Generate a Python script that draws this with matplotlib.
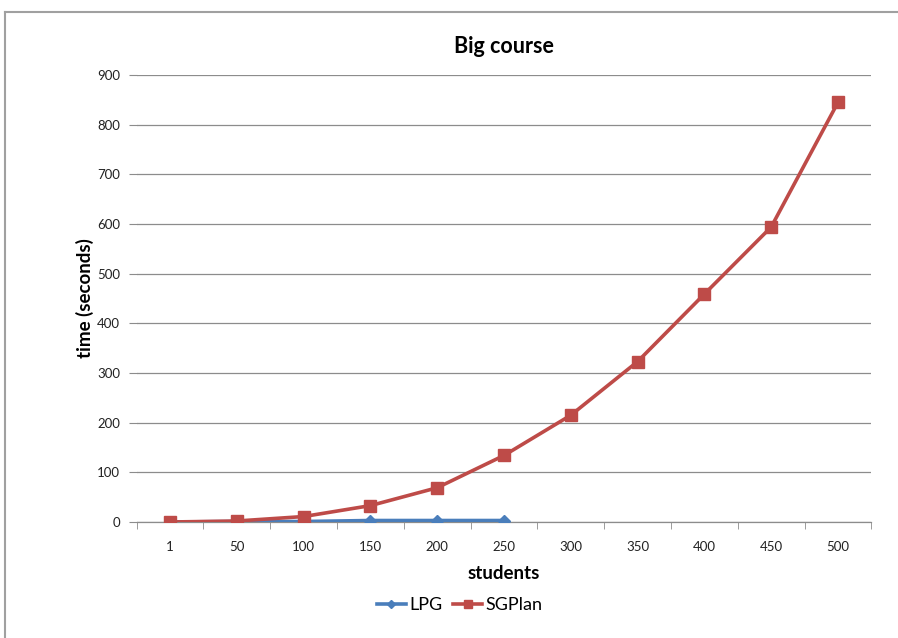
import matplotlib
matplotlib.use('Agg')
import matplotlib.pyplot as plt
import numpy as np
from matplotlib.lines import Line2D

plt.rcParams['font.family'] = ['Lato', 'DejaVu Sans']

students = ['1', '50', '100', '150', '200', '250', '300', '350', '400', '450', '500']
sgplan = [0, 2, 11, 33, 69, 134, 215, 323, 459, 594, 845]
lpg = [0, 1, 1, 3, 3, 3]

BLUE = '#4a7ebb'
RED = '#be4b48'
GRID = '#8c8c8c'

fig = plt.figure(figsize=(8.98, 6.38), dpi=100)
# outer chart frame (left and top edges visible)
fig.add_artist(Line2D([5 / 898, 5 / 898], [0, 1 - 12 / 638], transform=fig.transFigure,
                      color='#a0a0a0', linewidth=1.5))
fig.add_artist(Line2D([5 / 898, 1], [1 - 12 / 638, 1 - 12 / 638], transform=fig.transFigure,
                      color='#a0a0a0', linewidth=1.5))

ax = fig.add_axes([136.6 / 898, 116 / 638, (871.4 - 136.6) / 898, 447 / 638])

x = np.arange(len(students))
ax.plot(x[:len(lpg)], lpg, color=BLUE, linewidth=2.6, marker='D', markersize=6,
        label='LPG', zorder=3)
ax.plot(x, sgplan, color=RED, linewidth=2.6, marker='s', markersize=9,
        label='SGPlan', zorder=4)

ax.set_xlim(-0.5, len(students) - 0.5)
ax.set_ylim(0, 900)
ax.set_yticks(np.arange(0, 901, 100))
ax.tick_params(axis='y', length=6, color=GRID, labelsize=9.5, pad=6,
               labelcolor='#222222')
ax.set_xticks(x)
ax.set_xticklabels(students)
ax.tick_params(axis='x', which='major', length=0, labelsize=9.5, pad=14,
               labelcolor='#222222')
ax.set_xticks(np.arange(-0.5, len(students)), minor=True)
ax.tick_params(axis='x', which='minor', length=5, color=GRID, direction='out')

ax.grid(True, axis='y', color=GRID, linewidth=0.9)
ax.set_axisbelow(True)
for s in ['top', 'right', 'left']:
    ax.spines[s].set_visible(False)
ax.spines['bottom'].set_color(GRID)
ax.spines['bottom'].set_linewidth(0.9)

ax.set_title('Big course', fontsize=15.5, fontweight='bold', pad=16)
ax.set_xlabel('students', fontsize=13.5, fontweight='bold', labelpad=8)
ax.set_ylabel('time (seconds)', fontsize=13.5, fontweight='bold', labelpad=2)

fig.legend(loc='center', bbox_to_anchor=(0.512, 0.051), ncol=2, frameon=False,
           fontsize=13, handlelength=1.6, columnspacing=0.6, handletextpad=0.2,
           markerscale=0.7)

fig.savefig('out.png', dpi=100)
